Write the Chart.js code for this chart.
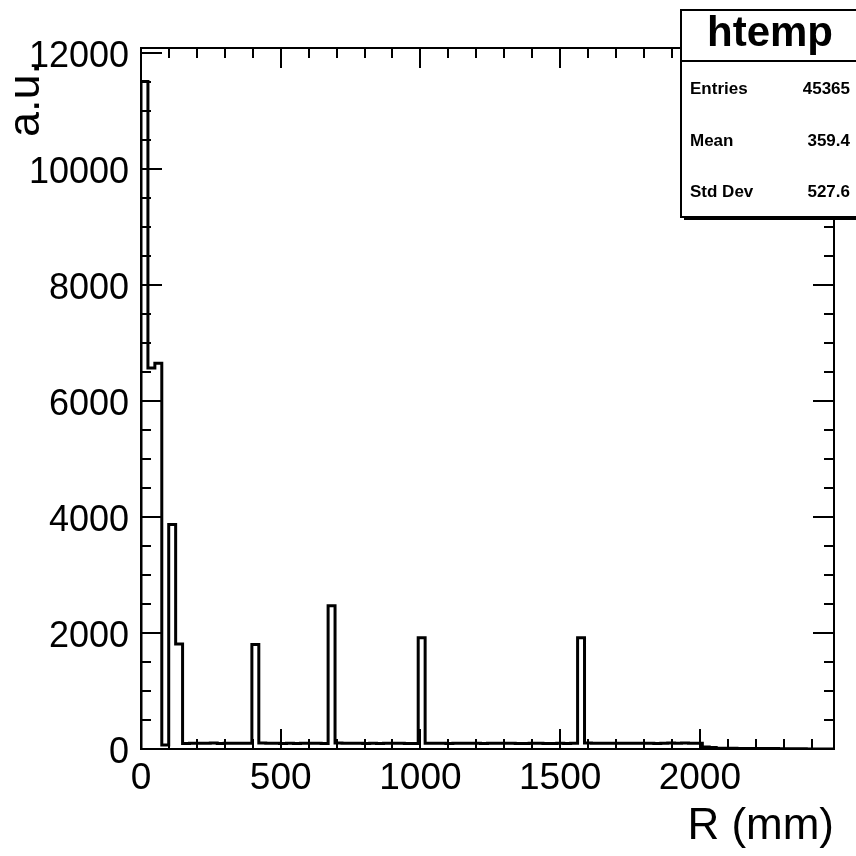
<!DOCTYPE html>
<html><head><meta charset="utf-8">
<script src="https://cdn.jsdelivr.net/npm/chart.js@4.4.1/dist/chart.umd.min.js"></script>
<style>html,body{margin:0;padding:0;background:#fff}canvas{display:block}</style>
</head><body>
<canvas id="c" width="856" height="856"></canvas>
<script>
// ---- data ----
const histName = 'htemp';
const xTitle = 'R (mm)';
const yTitle = 'a.u.';
const binLow = 0;
const binHigh = 2480;
const counts = [
  11510, 6570, 6650, 70, 3870, 1810,
  95, 100, 98, 97, 102, 96, 99, 101, 98, 97,
  1800,
  105, 100, 98, 96, 99, 95, 97, 98, 100, 96,
  2470,
  104, 101, 99, 98, 96, 97, 95, 99, 98, 97, 96, 95,
  1920,
  100, 98, 97, 96, 98, 99, 100, 97, 96, 98, 101, 99, 97, 96, 95, 98, 97, 96, 95, 97, 96, 98,
  1920,
  102, 99, 98, 97, 98, 97, 99, 100, 98, 97, 96, 99, 102, 100, 104, 101, 98,
  35, 28, 14, 12, 11, 10, 9, 10, 8, 9, 7, 5, 4, 3, 3, 2, 2, 1, 1
];
const yAxisMax = 12088;
const xTickValues = [0, 500, 1000, 1500, 2000];
const yTickValues = [0, 2000, 4000, 6000, 8000, 10000, 12000];
const xMinorStep = 100;
const yMinorStep = 500;
const statsLabels = ['Entries', 'Mean', 'Std Dev'];
const statsValues = ['45365', '359.4', '527.6'];

// ---- build histogram outline points ----
const binWidth = (binHigh - binLow) / counts.length;
const points = [{x: binLow, y: 0}];
counts.forEach((c, i) => points.push({x: binLow + i * binWidth, y: c}));
points.push({x: binHigh, y: counts[counts.length - 1]});

const FONT = "'Liberation Sans', Arial, Helvetica, sans-serif";

const framePlugin = {
  id: 'frame',
  afterDatasetsDraw(chart) {
    const ctx = chart.ctx;
    const a = chart.chartArea;
    const xs = chart.scales.x, ys = chart.scales.y;
    ctx.save();
    ctx.strokeStyle = '#000';
    ctx.lineWidth = 2;
    ctx.strokeRect(a.left, a.top, a.right - a.left, a.bottom - a.top);
    ctx.beginPath();
    for (let v = xs.min; v <= xs.max + 1e-6; v += xMinorStep) {
      const px = Math.round(xs.getPixelForValue(v));
      const major = xTickValues.includes(v);
      const len = major ? 20 : 10;
      ctx.moveTo(px, a.bottom); ctx.lineTo(px, a.bottom - len);
      ctx.moveTo(px, a.top); ctx.lineTo(px, a.top + len);
    }
    for (let v = ys.min; v <= ys.max + 1e-6; v += yMinorStep) {
      const py = Math.round(ys.getPixelForValue(v));
      const major = yTickValues.includes(v);
      const len = major ? 21 : 10;
      ctx.moveTo(a.left, py); ctx.lineTo(a.left + len, py);
      ctx.moveTo(a.right, py); ctx.lineTo(a.right - len, py);
    }
    ctx.stroke();
    ctx.restore();
  },
  afterDraw(chart) {
    const ctx = chart.ctx;
    ctx.save();
    // y axis title (rotated, aligned toward the top of the axis)
    ctx.fillStyle = '#000';
    ctx.translate(27, 62);
    ctx.rotate(-Math.PI / 2);
    ctx.font = "45px " + FONT;
    ctx.textAlign = 'right';
    ctx.textBaseline = 'middle';
    ctx.fillText(yTitle, 0, 0);
    ctx.setTransform(1, 0, 0, 1, 0, 0);
    // stats box
    const bx = 681, by = 10, bw = 185, bh = 207;
    ctx.fillStyle = '#000';
    ctx.fillRect(bx + 3, by + bh, bw, 3);
    ctx.fillStyle = '#fff';
    ctx.fillRect(bx, by, bw, bh);
    ctx.strokeStyle = '#000';
    ctx.lineWidth = 2;
    ctx.strokeRect(bx, by, bw, bh);
    ctx.beginPath();
    ctx.moveTo(bx, 61); ctx.lineTo(bx + bw, 61);
    ctx.stroke();
    ctx.fillStyle = '#000';
    ctx.textAlign = 'center';
    ctx.textBaseline = 'alphabetic';
    ctx.font = "bold 42px " + FONT;
    ctx.fillText(histName, 770, 46);
    ctx.font = "bold 17px " + FONT;
    const rowsY = [94, 146, 197];
    statsLabels.forEach((lab, i) => {
      ctx.textAlign = 'left';
      ctx.fillText(lab, 690, rowsY[i]);
      ctx.textAlign = 'right';
      ctx.fillText(statsValues[i], 850, rowsY[i]);
    });
    ctx.restore();
  }
};

new Chart(document.getElementById('c'), {
  type: 'line',
  data: {
    datasets: [{
      label: histName,
      data: points,
      stepped: 'before',
      borderColor: '#000',
      borderWidth: 3,
      pointRadius: 0,
      fill: false,
      tension: 0
    }]
  },
  options: {
    responsive: false,
    animation: false,
    devicePixelRatio: 1,
    layout: {padding: {left: 0, top: 48, right: 22, bottom: 0}},
    plugins: {legend: {display: false}, tooltip: {enabled: false}, title: {display: false}},
    scales: {
      x: {
        type: 'linear',
        min: binLow,
        max: binHigh,
        afterBuildTicks: s => { s.ticks = xTickValues.map(v => ({value: v})); },
        afterFit: s => { s.height = 107; },
        grid: {display: false},
        border: {display: false},
        ticks: {color: '#000', font: {family: FONT, size: 37}, padding: 0, maxRotation: 0, autoSkip: false,
                callback: v => String(v)},
        title: {display: true, text: xTitle, align: 'end', color: '#000', font: {family: FONT, size: 44}, padding: {top: 0, bottom: 3}}
      },
      y: {
        type: 'linear',
        min: 0,
        max: yAxisMax,
        afterBuildTicks: s => { s.ticks = yTickValues.map(v => ({value: v})); },
        afterFit: s => { s.width = 141; },
        grid: {display: false},
        border: {display: false},
        ticks: {color: '#000', font: {family: FONT, size: 36}, padding: 4, labelOffset: 4, autoSkip: false,
                callback: v => String(v)},
        title: {display: false}
      }
    }
  },
  plugins: [framePlugin]
});
</script>
</body></html>
